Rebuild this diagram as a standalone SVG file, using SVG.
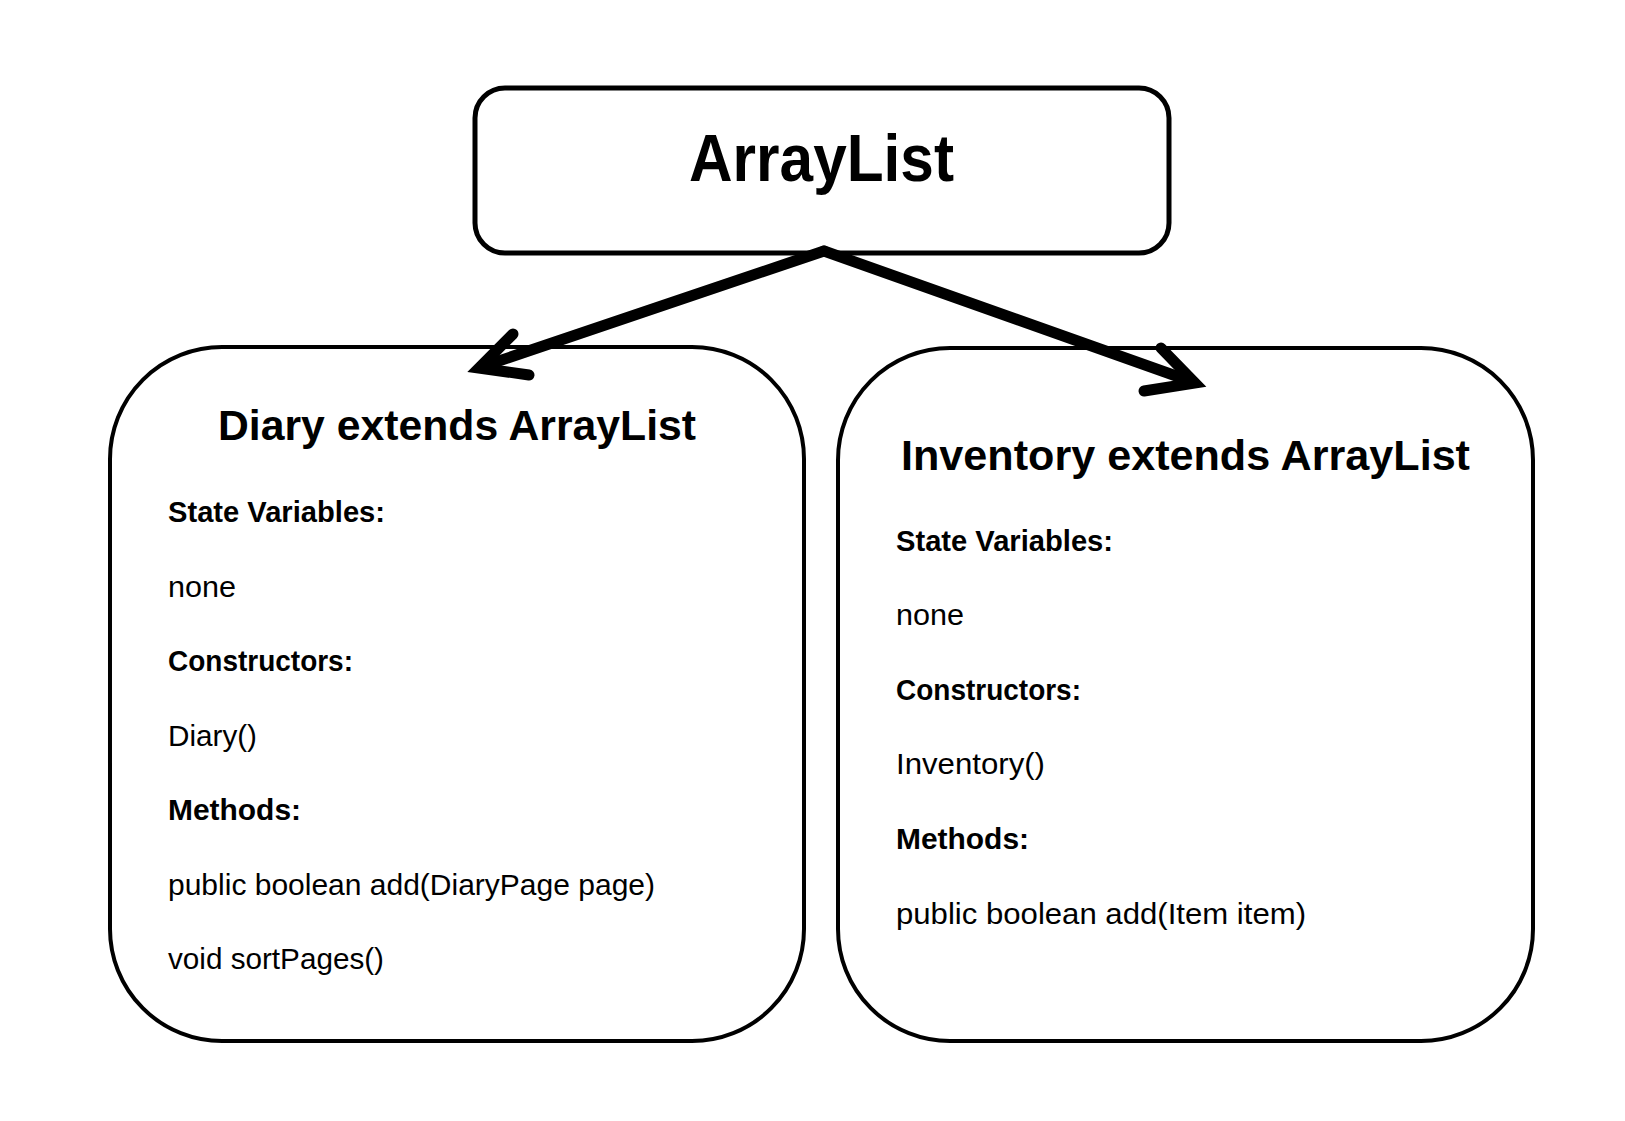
<svg xmlns="http://www.w3.org/2000/svg" width="1625" height="1121" viewBox="0 0 1625 1121">
<defs>
<style>
.box{fill:#ffffff;stroke:#000000;}
.t{font-family:"Liberation Sans",Arial,sans-serif;fill:#000000;}
.big{font-size:66px;font-weight:bold;}
.title{font-size:42px;font-weight:bold;}
.lbl{font-size:29px;font-weight:bold;}
.txt{font-size:30px;}
.conn{fill:none;stroke:#000000;stroke-width:11;stroke-linecap:round;stroke-linejoin:miter;stroke-miterlimit:10;}
</style>
</defs>
<rect x="0" y="0" width="1625" height="1121" fill="#ffffff"/>
<g id="node-arraylist">
<rect class="box" x="475" y="88" width="694" height="165" rx="30" ry="30" stroke-width="5"/>
<text class="t big" x="821.5" y="181" text-anchor="middle" textLength="265" lengthAdjust="spacingAndGlyphs">ArrayList</text>
</g>
<g id="node-diary">
<rect class="box" x="110" y="347" width="694" height="694" rx="112" ry="112" stroke-width="4"/>
<text class="t title" x="218" y="440" textLength="478" lengthAdjust="spacingAndGlyphs">Diary extends ArrayList</text>
<text class="t lbl" x="168" y="522" textLength="217" lengthAdjust="spacingAndGlyphs">State Variables:</text>
<text class="t txt" x="168" y="597" textLength="68" lengthAdjust="spacingAndGlyphs">none</text>
<text class="t lbl" x="168" y="671" textLength="185" lengthAdjust="spacingAndGlyphs">Constructors:</text>
<text class="t txt" x="168" y="746" textLength="89" lengthAdjust="spacingAndGlyphs">Diary()</text>
<text class="t lbl" x="168" y="820" textLength="133" lengthAdjust="spacingAndGlyphs">Methods:</text>
<text class="t txt" x="168" y="895" textLength="487" lengthAdjust="spacingAndGlyphs">public boolean add(DiaryPage page)</text>
<text class="t txt" x="168" y="969" textLength="216" lengthAdjust="spacingAndGlyphs">void sortPages()</text>
</g>
<g id="node-inventory">
<rect class="box" x="838" y="348" width="695" height="693" rx="112" ry="112" stroke-width="4"/>
<text class="t title" x="901" y="470" textLength="569" lengthAdjust="spacingAndGlyphs">Inventory extends ArrayList</text>
<text class="t lbl" x="896" y="551" textLength="217" lengthAdjust="spacingAndGlyphs">State Variables:</text>
<text class="t txt" x="896" y="625" textLength="68" lengthAdjust="spacingAndGlyphs">none</text>
<text class="t lbl" x="896" y="700" textLength="185" lengthAdjust="spacingAndGlyphs">Constructors:</text>
<text class="t txt" x="896" y="774" textLength="149" lengthAdjust="spacingAndGlyphs">Inventory()</text>
<text class="t lbl" x="896" y="849" textLength="133" lengthAdjust="spacingAndGlyphs">Methods:</text>
<text class="t txt" x="896" y="924" textLength="410" lengthAdjust="spacingAndGlyphs">public boolean add(Item item)</text>
</g>
<g id="connectors">
<path class="conn" d="M824,251 L481,367"/>
<path class="conn" d="M513,334 L479,368 L529,375"/>
<path class="conn" d="M824,251 L1193,382"/>
<path class="conn" d="M1161,348 L1195,383 L1144,391"/>
</g>
</svg>
